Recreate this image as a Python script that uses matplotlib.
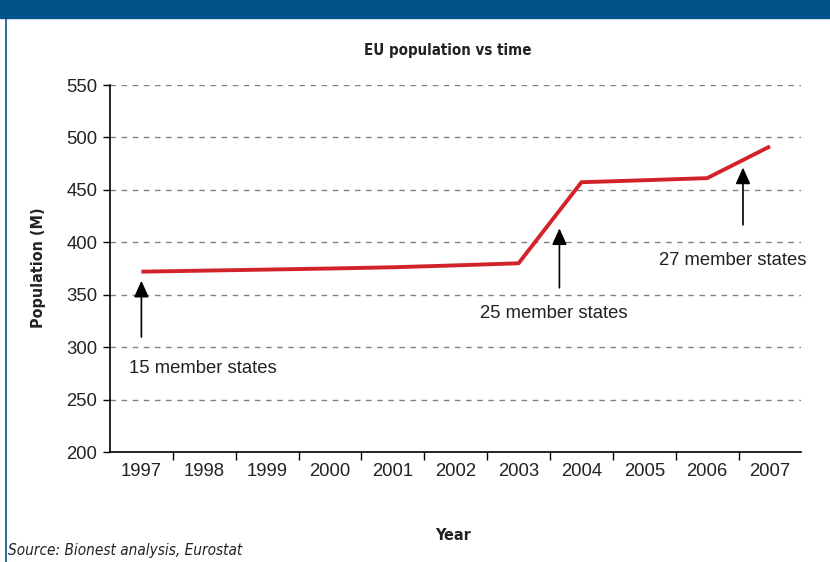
import matplotlib.pyplot as plt
from matplotlib.patches import Rectangle
from matplotlib.lines import Line2D

# EU population (millions)
years = ['1997', '1998', '1999', '2000', '2001', '2002', '2003', '2004', '2005', '2006', '2007']
population = [372.0, 373.0, 374.0, 375.0, 376.2, 378.0, 380.0, 457.3, 459.2, 461.2, 491.5]
y_ticks = [200, 250, 300, 350, 400, 450, 500, 550]

# annotations: label, arrow x (category index), tail y, head y, text x, text y
notes = [
    ('15 member states', 0.0, 307, 366, 0.98, 280),
    ('25 member states', 6.65, 354, 416, 6.56, 332),
    ('27 member states', 9.57, 414, 474, 9.41, 383),
]

plain = ['Liberation Sans', 'DejaVu Sans']
ink = '#222222'

fig = plt.figure(figsize=(8.3, 5.62), dpi=100)
ax = fig.add_axes([0.1325, 0.1957, 0.8331, 0.6530])

# blue header band and left border
fig.patches.append(Rectangle((0, 1 - 18 / 562), 1, 18 / 562, transform=fig.transFigure,
                             color='#02538a', zorder=0))
fig.lines.append(Line2D([5.5 / 830, 5.5 / 830], [0, 1 - 18 / 562], transform=fig.transFigure,
                        color='#02538a', lw=1.2))

x = range(len(years))
ax.plot(x, population, color='#d2232a', lw=2.8, solid_capstyle='butt', zorder=3)

ax.set_xlim(-0.5, len(years) - 0.5)
ax.set_ylim(200, 550)
ax.set_yticks(y_ticks)
ax.set_xticks(list(x))
ax.set_xticklabels(years, family=plain, fontsize=13.3, color=ink)
ax.set_xticks([i + 0.5 for i in range(len(years) - 1)], minor=True)
ax.tick_params(axis='x', which='major', length=0, pad=8)
ax.tick_params(axis='x', which='minor', length=6, width=1, direction='out')
ax.tick_params(axis='y', length=5, width=1, direction='out', pad=4)
for lbl in ax.get_yticklabels():
    lbl.set_family(plain)
    lbl.set_fontsize(13.3)
    lbl.set_color(ink)

ax.grid(axis='y', color='#808080', linestyle=(0, (4, 4)), lw=1)
ax.set_axisbelow(True)
for s in ['top', 'right']:
    ax.spines[s].set_visible(False)
ax.spines['left'].set_linewidth(1.2)
ax.spines['bottom'].set_linewidth(1.2)

for label, ax_x, tail, head, tx, ty in notes:
    ax.annotate('', xy=(ax_x, head), xytext=(ax_x, tail),
                arrowprops=dict(arrowstyle='-|>,head_length=1.0,head_width=0.45',
                                color='black', lw=1.2), zorder=4)
    ax.text(tx, ty, label, ha='center', va='center', family=plain, fontsize=13.3,
            color=ink)

cond = dict(family='DejaVu Sans', fontstretch='condensed', fontweight='bold', color=ink)
fig.text(0.54, 0.911, 'EU population vs time', ha='center', va='center', fontsize=10.8, **cond)
fig.text(0.046, 0.523, 'Population (M)', ha='center', va='center', rotation=90,
         fontsize=11.5, **cond)
fig.text(0.546, 0.048, 'Year', ha='center', va='center', fontsize=11.5, **cond)
fig.text(0.01, 0.021, 'Source: Bionest analysis, Eurostat', ha='left', va='center',
         family='DejaVu Sans', fontstretch='condensed', fontsize=11, style='italic', color=ink)

fig.savefig('out.png', dpi=100)
